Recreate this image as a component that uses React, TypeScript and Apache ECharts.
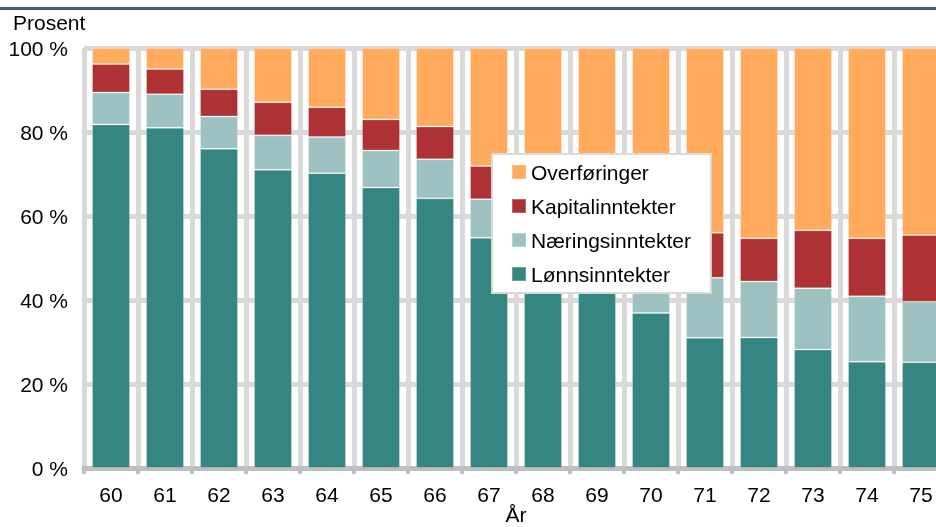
import React, { useEffect, useRef } from "react";
import * as echarts from "echarts";

const categories = ["60", "61", "62", "63", "64", "65", "66", "67", "68", "69", "70", "71", "72", "73", "74", "75"];
const lonnsinntekter = [81.8, 81.0, 76.0, 71.0, 70.2, 66.8, 64.2, 54.8, 48.0, 43.0, 36.9, 31.0, 31.1, 28.2, 25.3, 25.2];
const naeringsinntekter = [7.6, 8.0, 7.7, 8.2, 8.6, 8.8, 9.3, 9.2, 10.0, 11.0, 12.0, 14.3, 13.3, 14.6, 15.6, 14.4];
const kapitalinntekter = [6.8, 6.0, 6.5, 7.9, 7.1, 7.4, 7.8, 7.9, 8.0, 9.0, 9.5, 10.7, 10.3, 13.8, 13.8, 15.9];
const overforinger = [3.8, 5.0, 9.8, 12.9, 14.1, 17.0, 18.7, 28.1, 34.0, 37.0, 41.6, 44.0, 45.3, 43.4, 45.3, 44.5];
const yTicks = [0, 20, 40, 60, 80, 100];

const FONT = "'Liberation Sans', Arial, sans-serif";

export default function App() {
  const ref = useRef<HTMLDivElement>(null);
  useEffect(() => {
    if (!ref.current) return;
    const chart = echarts.init(ref.current, undefined, { renderer: "svg" });
    const barStyle = (color: string) => ({
      color,
      borderColor: "rgba(255,255,255,0.25)",
      borderWidth: 1,
    });
    chart.setOption({
      animation: false,
      textStyle: { fontFamily: FONT },
      grid: { left: 84, top: 48, width: 864, height: 420, containLabel: false, outerBoundsMode: "none" },
      graphic: [
        { type: "rect", shape: { x: 0, y: 7, width: 936, height: 3 }, style: { fill: "#46587f" } },
        {
          type: "text",
          x: 13,
          y: 22,
          style: { text: "Prosent", fontSize: 21, fontFamily: FONT, fill: "#000", verticalAlign: "middle" },
        },
        {
          type: "text",
          x: 516,
          y: 514,
          style: { text: "År", fontSize: 21, fontFamily: FONT, fill: "#000", align: "center", verticalAlign: "middle" },
        },
      ],
      legend: {
        orient: "vertical",
        left: 492,
        top: 154,
        data: ["Overføringer", "Kapitalinntekter", "Næringsinntekter", "Lønnsinntekter"],
        icon: "rect",
        itemWidth: 14,
        itemHeight: 14,
        itemGap: 12,
        padding: [7, 20, 8, 19],
        backgroundColor: "#ffffff",
        borderColor: "#d9d9d9",
        borderWidth: 2,
        textStyle: { fontSize: 21, color: "#000", fontFamily: FONT, lineHeight: 22 },
        z: 10,
      },
      xAxis: {
        type: "category",
        data: categories,
        offset: 3,
        axisLine: { show: true, lineStyle: { color: "#bfbfbf", width: 5 } },
        axisTick: { show: true, length: 6, lineStyle: { color: "#bfbfbf", width: 4 } },
        axisLabel: { fontSize: 21, color: "#000", margin: 13, fontFamily: FONT },
        splitLine: { show: true, lineStyle: { color: "#d9d9d9", width: 5 } },
      },
      yAxis: {
        type: "value",
        min: yTicks[0],
        max: yTicks[yTicks.length - 1],
        interval: 20,
        axisLine: { show: false },
        axisTick: { show: false },
        axisLabel: { fontSize: 21, color: "#000", margin: 16, fontFamily: FONT, formatter: "{value} %" },
        splitLine: { show: true, lineStyle: { color: "#d9d9d9", width: 5 } },
      },
      series: [
        { name: "Lønnsinntekter", type: "bar", stack: "total", data: lonnsinntekter, barWidth: 38, itemStyle: barStyle("#358583") },
        { name: "Næringsinntekter", type: "bar", stack: "total", data: naeringsinntekter, barWidth: 38, itemStyle: barStyle("#9dc1c1") },
        { name: "Kapitalinntekter", type: "bar", stack: "total", data: kapitalinntekter, barWidth: 38, itemStyle: barStyle("#ae3234") },
        { name: "Overføringer", type: "bar", stack: "total", data: overforinger, barWidth: 38, itemStyle: barStyle("#ffaa5c") },
      ],
    });
    return () => chart.dispose();
  }, []);
  return <div ref={ref} style={{ position: "fixed", left: 0, top: 0, width: 936, height: 527 }} />;
}
